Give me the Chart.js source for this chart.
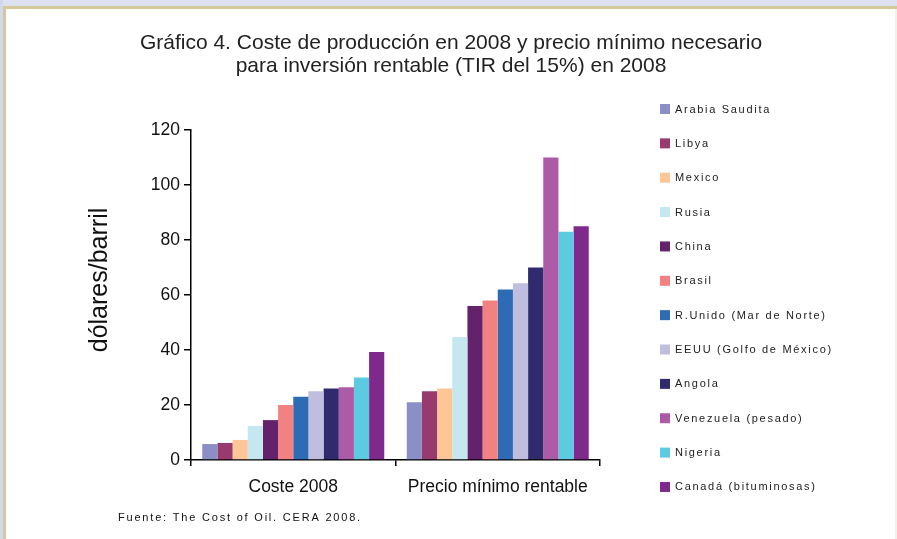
<!DOCTYPE html>
<html>
<head>
<meta charset="utf-8">
<script src="https://cdn.jsdelivr.net/npm/chart.js@4.4.1/dist/chart.umd.min.js"></script>
<style>
  body { margin: 0; background: #fff; }
  #wrap { position: relative; width: 897px; height: 539px; overflow: hidden; background: #fff; }
  #band { position: absolute; left: 0; top: 0; width: 897px; height: 6px; background: #dde1f0; }
  #bandL { position: absolute; left: 0; top: 0; width: 3px; height: 539px; background: #d3d9ea; }
  #goldT { position: absolute; left: 3px; top: 6px; width: 894px; height: 3px; background: #d5c99c; }
  #goldL { position: absolute; left: 3px; top: 6px; width: 3px; height: 533px; background: #d5c99c; }
  #edgeR { position: absolute; left: 895px; top: 9px; width: 2px; height: 530px; background: #f4f1e6; }
  canvas { position: absolute; left: 0; top: 0; }
</style>
</head>
<body>
<div id="wrap">
  <div id="band"></div><div id="bandL"></div><div id="goldT"></div><div id="goldL"></div><div id="edgeR"></div>
  <canvas id="myChart" width="897" height="539"></canvas>
</div>
<script>
var ctx = document.getElementById('myChart').getContext('2d');
/* Coste de produccion y precio minimo (dolares/barril) */
const categories = ['Coste 2008', 'Precio mínimo rentable'];
const countries = ['Arabia Saudita', 'Libya', 'Mexico', 'Rusia', 'China', 'Brasil',
    'R.Unido (Mar de Norte)', 'EEUU (Golfo de México)', 'Angola', 'Venezuela (pesado)',
    'Nigeria', 'Canadá (bituminosas)'];
const coste2008 = [5.8, 6.2, 7.3, 12.4, 14.5, 20, 23, 25, 26, 26.5, 30, 39.3];
const precioMinimo = [21, 25, 26, 44.7, 56, 58, 62, 64.3, 70, 110, 83, 85];
const colors = ['#8b8fc6', '#983a6e', '#fcc697', '#c4e7f0', '#64226a', '#f28282',
    '#2d6bb4', '#bfbedf', '#312b6e', '#ad5ba6', '#5ccadf', '#7f298d'];
const yMin = 0, yMax = 120, yStep = 20;
const titleLines = ['Gráfico 4. Coste de producción en 2008 y precio mínimo necesario',
    'para inversión rentable (TIR del 15%) en 2008'];
const yTitle = 'dólares/barril';
const source = 'Fuente: The Cost of Oil. CERA 2008.';

const FONT = "'Liberation Sans', Arial, Helvetica, sans-serif";

// titulo, titulo del eje y, leyenda a la derecha y fuente
const extras = {
    id: 'extras',
    afterDraw(chart) {
        const c = chart.ctx;
        c.save();
        c.textBaseline = 'middle';
        c.textAlign = 'center';
        c.fillStyle = '#222';
        c.font = '21px ' + FONT;
        c.fillText(titleLines[0], 451, 43);
        c.fillText(titleLines[1], 451, 66);

        c.save();
        c.translate(100, 280);
        c.rotate(-Math.PI / 2);
        c.font = '25px ' + FONT;
        c.fillStyle = '#111';
        c.fillText(yTitle, 0, 0);
        c.restore();

        c.textAlign = 'left';
        c.font = '11px ' + FONT;
        c.letterSpacing = '1.7px';
        chart.data.datasets.forEach(function (ds, i) {
            const y = 109 + i * 34.36;
            c.fillStyle = ds.backgroundColor;
            c.fillRect(660, y - 5, 10, 10);
            c.fillStyle = '#222';
            c.fillText(ds.label, 675, y + 0.5);
        });
        c.letterSpacing = '1.8px';
        c.fillStyle = '#111';
        c.fillText(source, 118, 518);
        c.restore();
    }
};

var myChart = new Chart(ctx, {
    type: 'bar',
    data: {
        labels: categories,
        datasets: countries.map(function (name, i) {
            return {
                label: name,
                data: [coste2008[i], precioMinimo[i]],
                backgroundColor: colors[i],
                borderWidth: 0,
                barPercentage: 1,
                categoryPercentage: 0.89
            };
        })
    },
    options: {
        responsive: false,
        animation: false,
        devicePixelRatio: 1,
        layout: { padding: { left: 0, right: 297, top: 130, bottom: 0 } },
        plugins: {
            legend: { display: false },
            tooltip: { enabled: false },
            title: { display: false }
        },
        scales: {
            x: {
                afterFit: function (s) { s.height = 79; },
                border: { display: true, color: '#000', width: 1.5 },
                grid: { offset: true, drawOnChartArea: false, drawTicks: true, tickLength: 6, color: '#000', lineWidth: 1.5 },
                ticks: { color: '#111', padding: 11, font: { family: FONT, size: 17.5 } }
            },
            y: {
                min: yMin,
                max: yMax,
                afterFit: function (s) { s.width = 191; },
                border: { display: true, color: '#000', width: 1.5 },
                grid: { drawOnChartArea: false, drawTicks: true, tickLength: 7, color: '#000', lineWidth: 1.5 },
                ticks: { stepSize: yStep, color: '#111', padding: 4, font: { family: FONT, size: 17.5 } }
            }
        }
    },
    plugins: [extras]
});
</script>
</body>
</html>
